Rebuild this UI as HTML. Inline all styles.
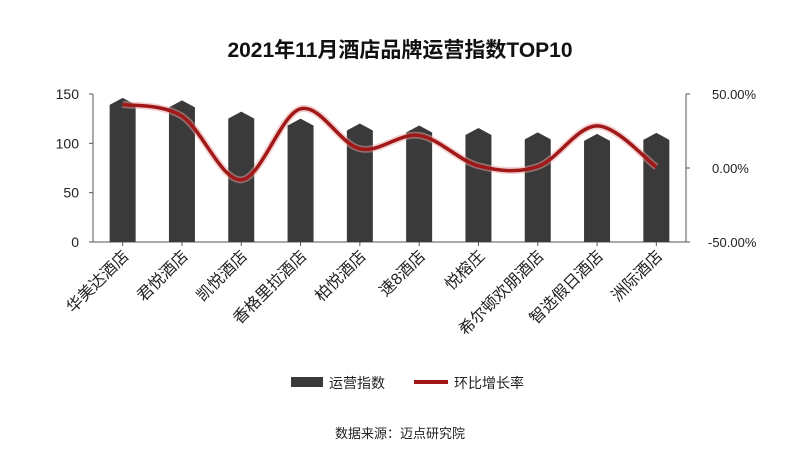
<!DOCTYPE html>
<html><head><meta charset="utf-8"><style>
body{margin:0;background:#fff;}
svg{display:block;font-family:"Liberation Sans","Noto Sans CJK SC",sans-serif;}
</style></head><body>
<svg id="c" width="800" height="464">
<text x="400" y="57" text-anchor="middle" font-size="21" font-weight="bold" fill="#111">2021年11月酒店品牌运营指数TOP10</text>
<g id="g"></g>
<g>
<rect x="291" y="377" width="32" height="10" fill="#3a3a3a"/>
<text x="329" y="388" font-size="14" fill="#222">运营指数</text>
<line x1="414" y1="382" x2="448" y2="382" stroke="#a01818" stroke-width="4"/>
<text x="454" y="388" font-size="14" fill="#222">环比增长率</text>
</g>
<text x="400" y="438" text-anchor="middle" font-size="13" fill="#222">数据来源：迈点研究院</text>
</svg>
<script>
const categories=["华美达酒店","君悦酒店","凯悦酒店","香格里拉酒店","柏悦酒店","速8酒店","悦榕庄","希尔顿欢朋酒店","智选假日酒店","洲际酒店"];
const indexValues=[139,136.5,125,118,113,111,108.5,104,102.5,103.5];
const growthValues=[43,35,-8,40,13,22,1.5,1,28.5,0.7];
const leftTicks=[0,50,100,150];
const rightTicks=[-50,0,50];
const NS="http://www.w3.org/2000/svg";
const g=document.getElementById('g');
const X0=93,X1=686,Y0=242,Y1=94;
const bw=(X1-X0)/categories.length;
const xc=i=>X0+bw*(i+0.5);
const yL=v=>Y0-(v/150)*(Y0-Y1);
const yR=v=>Y0-((v+50)/100)*(Y0-Y1);
function mk(t,a){const e=document.createElementNS(NS,t);for(const k in a)e.setAttribute(k,a[k]);g.appendChild(e);return e;}
let e;
e=mk('line',{x1:X0,y1:Y1,x2:X0,y2:Y0,stroke:'#555'});


e=mk('line',{x1:X1,y1:Y1,x2:X1,y2:Y0,stroke:'#555'});


e=mk('line',{x1:X0,y1:Y0,x2:X1,y2:Y0,stroke:'#555'});


leftTicks.forEach(v=>{
 mk('line',{x1:X0-4,x2:X0,y1:yL(v),y2:yL(v),stroke:'#555'});
 e=mk('text',{x:X0-14,y:yL(v)+5,'text-anchor':'end','font-size':14,fill:'#222'});e.textContent=v;
 
 
});
rightTicks.forEach(v=>{
 mk('line',{x1:X1,x2:X1+4,y1:yR(v),y2:yR(v),stroke:'#555'});
 e=mk('text',{x:X1+(v<0?22:26),y:yR(v)+5,'font-size':13,fill:'#222'});e.textContent=v.toFixed(2)+'%';
 
 
});
categories.forEach((c,i)=>{
 const x=xc(i),w=13,t=yL(indexValues[i]);
 e=mk('path',{d:`M${x-w},${Y0}V${t}L${x},${t-7}L${x+w},${t}V${Y0}Z`,fill:'#3a3a3a'});
 
 
 mk('line',{x1:x,x2:x,y1:Y0,y2:Y0+4,stroke:'#555'});
 e=mk('text',{x:0,y:0,'text-anchor':'end','font-size':16,fill:'#222',transform:`translate(${x+7},${Y0+15}) rotate(-45)`});
 e.textContent=c;
 
 
});
const pts=growthValues.map((v,i)=>[xc(i),yR(v)]);
let d=`M${pts[0][0]},${pts[0][1]}`;
for(let i=0;i<pts.length-1;i++){
 const p0=pts[Math.max(i-1,0)],p1=pts[i],p2=pts[i+1],p3=pts[Math.min(i+2,pts.length-1)];
 const c1=[p1[0]+(p2[0]-p0[0])/6,p1[1]+(p2[1]-p0[1])/6],c2=[p2[0]-(p3[0]-p1[0])/6,p2[1]-(p3[1]-p1[1])/6];
 d+=`C${c1[0]},${c1[1]} ${c2[0]},${c2[1]} ${p2[0]},${p2[1]}`;
}
e=mk('path',{d:d,fill:'none',stroke:'#e8a0a0','stroke-width':7,opacity:0.5});


e=mk('path',{d:d,fill:'none',stroke:'#a01818','stroke-width':3.5});


</script>
</body></html>
